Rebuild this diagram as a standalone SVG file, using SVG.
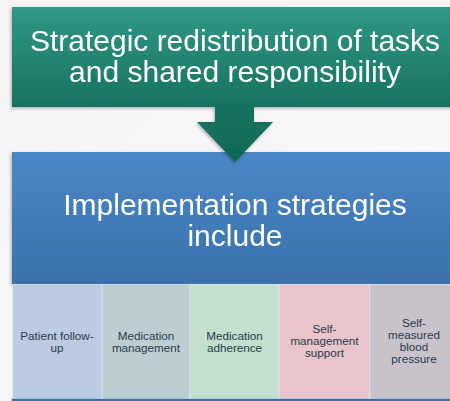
<svg xmlns="http://www.w3.org/2000/svg" width="450" height="401" viewBox="0 0 450 401">
  <style>
    .title { font-family: "Liberation Sans", Arial, sans-serif; font-size: 30px; fill: #ffffff; text-anchor: middle; }
    .item { font-family: "Liberation Sans", Arial, sans-serif; font-size: 11.7px; fill: #2a3a4c; text-anchor: middle; }
    .cell { stroke: #ffffff; stroke-opacity: 0.35; stroke-width: 1; }
  </style>
  <defs>
    <linearGradient id="teal" x1="0" y1="0" x2="0" y2="1">
      <stop offset="0" stop-color="#309886"/>
      <stop offset="1" stop-color="#18725F"/>
    </linearGradient>
    <linearGradient id="tealArrow" x1="0" y1="0" x2="0" y2="1">
      <stop offset="0" stop-color="#18725F"/>
      <stop offset="1" stop-color="#0F6A57"/>
    </linearGradient>
    <linearGradient id="blue" x1="0" y1="0" x2="0" y2="1">
      <stop offset="0" stop-color="#4B87C6"/>
      <stop offset="1" stop-color="#3A71AC"/>
    </linearGradient>
    <linearGradient id="bg" x1="0" y1="0" x2="1" y2="1">
      <stop offset="0" stop-color="#f4f4f4"/>
      <stop offset="1" stop-color="#fafafa"/>
    </linearGradient>
    <filter id="shadow" x="-10%" y="-10%" width="120%" height="130%">
      <feDropShadow dx="-1" dy="1.5" stdDeviation="1.5" flood-color="#000000" flood-opacity="0.3"/>
    </filter>
  </defs>

  <rect x="0" y="0" width="450" height="401" fill="url(#bg)"/>

  <g id="top-node" filter="url(#shadow)">
    <rect x="12" y="7" width="446" height="100" fill="url(#teal)"/>
    <text class="title" x="235" y="51">Strategic redistribution of tasks</text>
    <text class="title" x="235" y="82">and shared responsibility</text>
  </g>

  <g id="strategies-node" filter="url(#shadow)">
    <rect x="12" y="152" width="446" height="132" fill="url(#blue)"/>
    <text class="title" x="235" y="215">Implementation strategies</text>
    <text class="title" x="235" y="246">include</text>
    <rect x="12" y="398" width="446" height="3" fill="#3A71AC"/>
  </g>

  <g id="connectors">
    <path d="M215,106 L254,106 L254,122 L273,122 L235,162 L197,122 L215,122 Z" fill="url(#tealArrow)" filter="url(#shadow)"/>
  </g>

  <g id="patient-follow-up">
    <rect class="cell" x="12.5" y="284.5" width="89.5" height="114" fill="#BACBE2"/>
    <text class="item" x="57" y="340">Patient follow-</text>
    <text class="item" x="57" y="352">up</text>
  </g>

  <g id="medication-management">
    <rect class="cell" x="102" y="284.5" width="88" height="114" fill="#BDCED3"/>
    <text class="item" x="146" y="340">Medication</text>
    <text class="item" x="146" y="352">management</text>
  </g>

  <g id="medication-adherence">
    <rect class="cell" x="190" y="284.5" width="89" height="114" fill="#C2E0CE"/>
    <text class="item" x="234.5" y="340">Medication</text>
    <text class="item" x="234.5" y="352">adherence</text>
  </g>

  <g id="self-management-support">
    <rect class="cell" x="279" y="284.5" width="91" height="114" fill="#E8C5CB"/>
    <text class="item" x="324.5" y="333">Self-</text>
    <text class="item" x="324.5" y="345">management</text>
    <text class="item" x="324.5" y="357">support</text>
  </g>

  <g id="self-measured-blood-pressure">
    <rect class="cell" x="370" y="284.5" width="88" height="114" fill="#C8C2CA"/>
    <text class="item" x="414" y="327">Self-</text>
    <text class="item" x="414" y="339">measured</text>
    <text class="item" x="414" y="351">blood</text>
    <text class="item" x="414" y="363">pressure</text>
  </g>
</svg>
